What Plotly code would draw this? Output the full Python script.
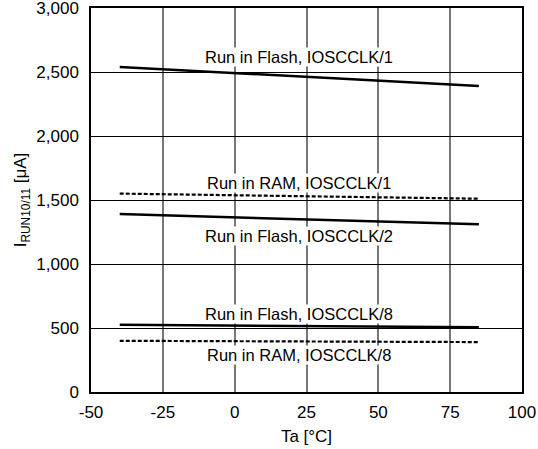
import plotly.graph_objects as go

temps = [-40, 85]
flash_div1 = [2540, 2390]
ram_div1 = [1550, 1510]
flash_div2 = [1390, 1310]
flash_div8 = [525, 505]
ram_div8 = [400, 390]

labels = ["Run in Flash, IOSCCLK/1", "Run in RAM, IOSCCLK/1", "Run in Flash, IOSCCLK/2",
          "Run in Flash, IOSCCLK/8", "Run in RAM, IOSCCLK/8"]
label_x = [22.5, 22.5, 22.5, 22.5, 22.5]
label_y = [2614, 1635, 1221, 609, 287]

x_ticks = [-50, -25, 0, 25, 50, 75, 100]
y_ticks = [0, 500, 1000, 1500, 2000, 2500, 3000]

FONT = "Liberation Sans, Arial, Helvetica, sans-serif"

fig = go.Figure()
series = [
    (flash_div1, "solid", 2.5),
    (ram_div1, "4px,2px", 2.2),
    (flash_div2, "solid", 2.5),
    (flash_div8, "solid", 2.5),
    (ram_div8, "4px,2px", 2.2),
]
for vals, dash, w in series:
    fig.add_trace(go.Scatter(x=temps, y=vals, mode="lines",
                             line=dict(color="black", width=w, dash=dash),
                             showlegend=False, hoverinfo="skip"))

for t, lx, ly in zip(labels, label_x, label_y):
    fig.add_annotation(x=lx, y=ly, text=t, showarrow=False, bgcolor="white",
                       font=dict(family=FONT, size=16.5, color="black"),
                       borderpad=0)

fig.update_layout(
    width=538, height=449,
    margin=dict(l=91, r=16, t=8, b=57),
    plot_bgcolor="white", paper_bgcolor="white",
    font=dict(family=FONT, size=17, color="black"),
)
fig.update_xaxes(range=[-50, 100], tickvals=x_ticks, ticktext=[str(v) for v in x_ticks],
                 showgrid=True, gridcolor="#777777", gridwidth=1.5,
                 showline=True, linecolor="black", linewidth=1.5, mirror=True,
                 zeroline=False, ticks="", ticklabelstandoff=4, automargin=False,
                 ticklabeloverflow="allow",
                 title=dict(text="Ta [°C]", font=dict(size=17), standoff=9))
fig.update_yaxes(range=[0, 3000], tickvals=y_ticks, ticktext=[f"{v:,}" for v in y_ticks],
                 showgrid=True, gridcolor="black", gridwidth=1,
                 showline=True, linecolor="black", linewidth=1.5, mirror=True,
                 zeroline=False, ticks="", ticklabelstandoff=7, automargin=False,
                 ticklabeloverflow="allow",
                 title=dict(text="I<sub>RUN10/11</sub> [μA]", font=dict(size=17), standoff=5))

fig.write_html("out.html", config={"displayModeBar": False},
               post_script="document.body.style.margin='0';document.body.style.overflow='hidden';")
